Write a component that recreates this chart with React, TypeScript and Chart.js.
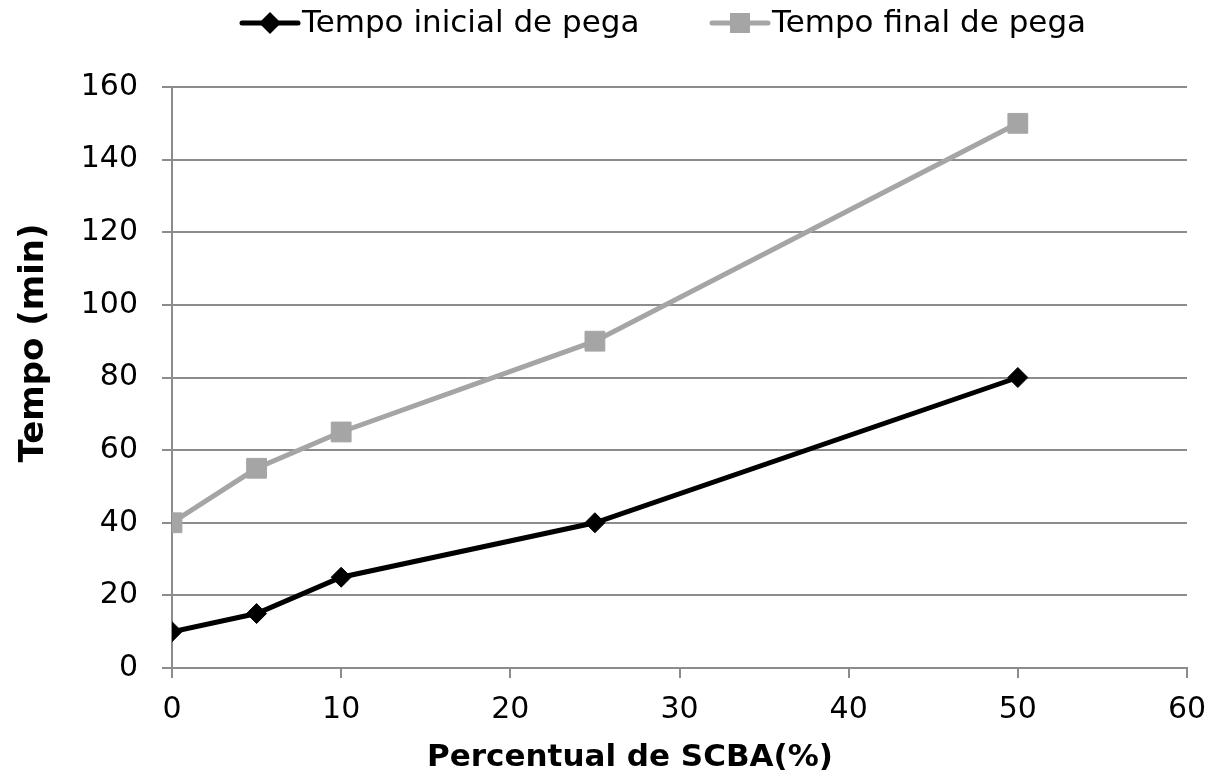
import React, { useEffect, useRef } from 'react';
import { Chart, registerables } from 'chart.js';

Chart.register(...registerables);

const percentSCBA = [0, 5, 10, 25, 50];
const tempoInicial = [10, 15, 25, 40, 80];
const tempoFinal = [40, 55, 65, 90, 150];
const seriesNames = ['Tempo inicial de pega', 'Tempo final de pega'];
const seriesColors = ['#000000', '#A5A5A5'];
const xTitle = 'Percentual de SCBA(%)';
const yTitle = 'Tempo (min)';
const xRange = [0, 60, 10];
const yRange = [0, 160, 20];

const FONT = '"DejaVu Sans", sans-serif';
const GRID = '#8C8C8C';

const overlay = {
  id: 'overlay',
  afterDraw(chart: any) {
    const ctx = chart.ctx as CanvasRenderingContext2D;
    ctx.save();
    const ly = 23;
    const items = [
      { x: 242, color: seriesColors[0], style: 'diamond', text: seriesNames[0] },
      { x: 712, color: seriesColors[1], style: 'square', text: seriesNames[1] },
    ];
    items.forEach((it) => {
      ctx.strokeStyle = it.color;
      ctx.lineWidth = 5;
      ctx.lineCap = 'round';
      ctx.beginPath();
      ctx.moveTo(it.x, ly);
      ctx.lineTo(it.x + 56, ly);
      ctx.stroke();
      ctx.fillStyle = it.color;
      const cx = it.x + 28;
      ctx.beginPath();
      if (it.style === 'diamond') {
        ctx.moveTo(cx, ly - 11);
        ctx.lineTo(cx + 11, ly);
        ctx.lineTo(cx, ly + 11);
        ctx.lineTo(cx - 11, ly);
        ctx.closePath();
      } else {
        ctx.rect(cx - 10, ly - 10, 20, 20);
      }
      ctx.fill();
      ctx.fillStyle = '#000';
      ctx.font = '31px ' + FONT;
      ctx.textAlign = 'left';
      ctx.textBaseline = 'middle';
      ctx.fillText(it.text, it.x + 60, ly + 1);
    });

    ctx.fillStyle = '#000';
    ctx.font = 'bold 31px ' + FONT;
    ctx.textAlign = 'center';
    ctx.textBaseline = 'middle';
    ctx.fillText(xTitle, 630, 758);

    ctx.translate(34, 343);
    ctx.rotate(-Math.PI / 2);
    ctx.font = 'bold 34px ' + FONT;
    ctx.fillText(yTitle, 0, 0);
    ctx.restore();
  },
};

export default function App() {
  const ref = useRef<HTMLCanvasElement | null>(null);
  useEffect(() => {
    if (!ref.current) return;
    const chart = new Chart(ref.current, {
      type: 'line',
      data: {
        datasets: [
          {
            label: seriesNames[0],
            data: percentSCBA.map((x, i) => ({ x, y: tempoInicial[i] })),
            borderColor: seriesColors[0],
            backgroundColor: seriesColors[0],
            borderWidth: 5,
            pointStyle: 'rectRot',
            pointRadius: 10,
            pointBorderWidth: 1,
            tension: 0,
          },
          {
            label: seriesNames[1],
            data: percentSCBA.map((x, i) => ({ x, y: tempoFinal[i] })),
            borderColor: seriesColors[1],
            backgroundColor: seriesColors[1],
            borderWidth: 5,
            pointStyle: 'rect',
            pointRadius: 14,
            pointBorderWidth: 1,
            tension: 0,
          },
        ],
      },
      options: {
        animation: false,
        responsive: true,
        maintainAspectRatio: false,
        layout: { padding: { left: 0, right: 25, top: 87, bottom: 0 } },
        plugins: { legend: { display: false }, tooltip: { enabled: false } },
        scales: {
          x: {
            type: 'linear',
            min: xRange[0],
            max: xRange[1],
            ticks: { stepSize: xRange[2], color: '#000', font: { family: FONT, size: 30 }, padding: 14, maxRotation: 0 },
            grid: { drawOnChartArea: false, drawTicks: true, tickLength: 10, color: GRID, lineWidth: 2 },
            border: { color: GRID, width: 2 },
            afterFit: (s: any) => { s.height = 112; s.paddingRight = 0; s.paddingLeft = 0; },
          },
          y: {
            min: yRange[0],
            max: yRange[1],
            ticks: { stepSize: yRange[2], color: '#000', font: { family: FONT, size: 30 }, padding: 24 },
            grid: { drawTicks: true, tickLength: 10, color: GRID, lineWidth: 2 },
            border: { color: GRID, width: 2 },
            afterFit: (s: any) => { s.width = 172; s.paddingTop = 0; s.paddingBottom = 0; },
          },
        },
      },
      plugins: [overlay],
    });
    return () => chart.destroy();
  }, []);
  return (
    <div style={{ position: 'absolute', left: 0, top: 0, width: 1212, height: 780, background: '#fff' }}>
      <canvas ref={ref} />
    </div>
  );
}
